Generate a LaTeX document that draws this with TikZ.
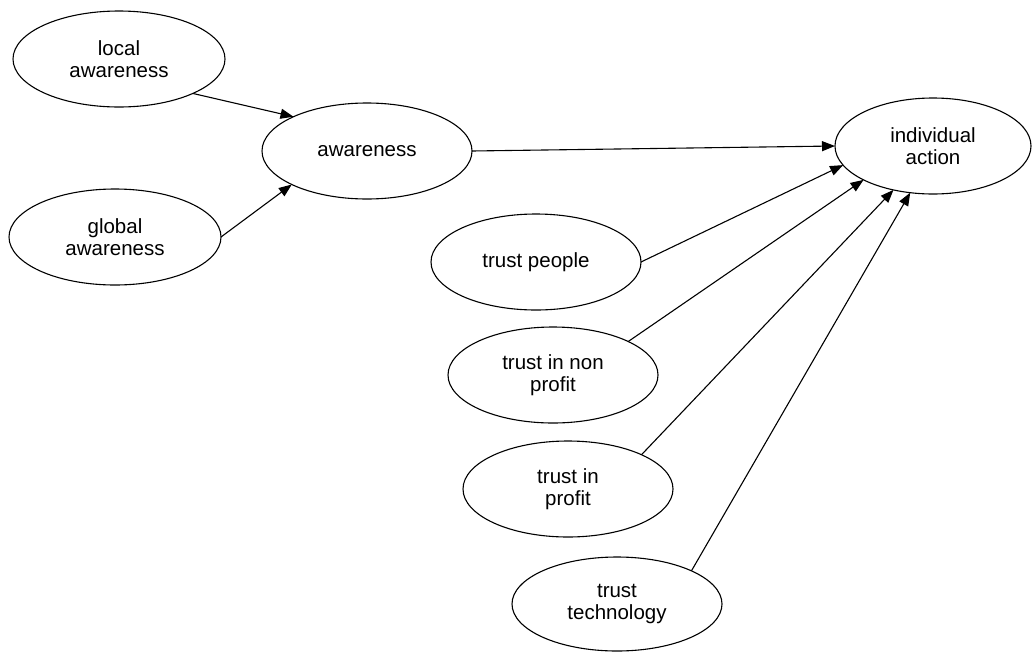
\documentclass[tikz,border=0pt]{standalone}
\usepackage{fontspec}
\setmainfont{Liberation Sans}
\usetikzlibrary{shapes.geometric,arrows.meta}
\tikzset{
  bubble/.style={ellipse, draw=black, line width=1.1pt, inner sep=0pt, outer sep=0pt,
    minimum width=210pt, minimum height=96pt, align=center,
    font=\fontsize{20.5pt}{22.5pt}\selectfont},
  link/.style={draw=black, line width=1.1pt, -{Triangle[length=13pt,width=10pt]}}
}
\begin{document}
\begin{tikzpicture}[x=1pt,y=-1pt]
\useasboundingbox (0,0) rectangle (1034,651);
\node[bubble, minimum width=212pt] (la) at (119,59) {local\\awareness};
\node[bubble, minimum width=212pt] (ga) at (115,237) {global\\awareness};
\node[bubble] (aw) at (367,151) {awareness};
\node[bubble, minimum width=196pt] (ia) at (933,146) {individual\\action};
\node[bubble] (tp) at (536,262) {trust people};
\node[bubble] (tn) at (553,375) {trust in non\\profit};
\node[bubble] (tpr) at (568,489) {trust in\\profit};
\node[bubble, minimum height=94pt] (tt) at (617,604) {trust\\technology};
\draw[link] (la.-25) -- (aw.155.6);
\draw[link] (ga.0) -- (aw.204.4);
\draw[link] (aw.0) -- (ia.180);
\draw[link] (tp.0) -- (ia.192);
\draw[link] (tn.24) -- (ia.206);
\draw[link] (tpr.25) -- (ia.228);
\draw[link] (tt.24.4) -- (ia.244);
\end{tikzpicture}
\end{document}
